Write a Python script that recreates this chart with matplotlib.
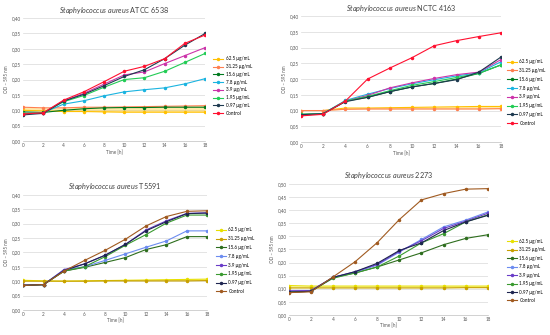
import matplotlib
matplotlib.use("Agg")
import matplotlib.pyplot as plt
from matplotlib.ticker import FuncFormatter

plt.rcParams['font.family'] = ['Lato', 'DejaVu Sans']
plt.rcParams['mathtext.fontset'] = 'custom'
plt.rcParams['mathtext.it'] = 'Lato:italic'
plt.rcParams['mathtext.rm'] = 'Lato'

time_h = [0, 2, 4, 6, 8, 10, 12, 14, 16, 18]
labels = ["62.5 µg/mL", "31.25 µg/mL", "15.6 µg/mL", "7.8 µg/mL",
          "3.9 µg/mL", "1.95 µg/mL", "0.97 µg/mL", "Control"]

# Panel 1: ATCC 6538
atcc_62 = [0.100, 0.098, 0.096, 0.096, 0.095, 0.094, 0.094, 0.094, 0.094, 0.094]
atcc_31 = [0.110, 0.108, 0.108, 0.110, 0.110, 0.111, 0.112, 0.113, 0.114, 0.115]
atcc_15 = [0.095, 0.093, 0.100, 0.105, 0.108, 0.109, 0.109, 0.110, 0.110, 0.110]
atcc_7 = [0.088, 0.092, 0.120, 0.131, 0.147, 0.160, 0.167, 0.173, 0.186, 0.203]
atcc_3 = [0.090, 0.092, 0.130, 0.155, 0.185, 0.215, 0.225, 0.252, 0.278, 0.304]
atcc_1 = [0.090, 0.092, 0.128, 0.148, 0.175, 0.200, 0.206, 0.227, 0.256, 0.285]
atcc_0 = [0.085, 0.090, 0.130, 0.152, 0.180, 0.210, 0.232, 0.268, 0.312, 0.350]
atcc_c = [0.088, 0.092, 0.133, 0.160, 0.193, 0.227, 0.243, 0.268, 0.318, 0.345]

# Panel 2: NCTC 4163
nctc_62 = [0.100, 0.100, 0.108, 0.108, 0.109, 0.110, 0.111, 0.112, 0.113, 0.113]
nctc_31 = [0.100, 0.100, 0.104, 0.105, 0.105, 0.105, 0.105, 0.105, 0.105, 0.106]
nctc_15 = [0.088, 0.090, 0.130, 0.142, 0.160, 0.175, 0.186, 0.200, 0.218, 0.245]
nctc_7 = [0.085, 0.090, 0.132, 0.152, 0.170, 0.185, 0.198, 0.210, 0.220, 0.255]
nctc_3 = [0.085, 0.090, 0.130, 0.148, 0.172, 0.188, 0.202, 0.214, 0.222, 0.262]
nctc_1 = [0.088, 0.090, 0.130, 0.145, 0.163, 0.180, 0.192, 0.205, 0.218, 0.245]
nctc_0 = [0.087, 0.090, 0.128, 0.142, 0.160, 0.175, 0.186, 0.198, 0.222, 0.270]
nctc_c = [0.083, 0.088, 0.130, 0.200, 0.235, 0.268, 0.306, 0.322, 0.335, 0.347]

# Panel 3: T5591
t_62 = [0.103, 0.101, 0.100, 0.101, 0.102, 0.103, 0.104, 0.105, 0.106, 0.107]
t_31 = [0.100, 0.100, 0.100, 0.100, 0.101, 0.101, 0.101, 0.101, 0.101, 0.102]
t_15 = [0.085, 0.088, 0.135, 0.148, 0.165, 0.182, 0.210, 0.227, 0.255, 0.255]
t_7 = [0.085, 0.088, 0.140, 0.150, 0.172, 0.195, 0.218, 0.240, 0.275, 0.275]
t_3 = [0.087, 0.088, 0.140, 0.160, 0.190, 0.228, 0.278, 0.310, 0.336, 0.338]
t_1 = [0.085, 0.088, 0.135, 0.150, 0.185, 0.225, 0.262, 0.302, 0.330, 0.330]
t_0 = [0.085, 0.088, 0.137, 0.160, 0.190, 0.228, 0.275, 0.307, 0.335, 0.337]
t_c = [0.085, 0.088, 0.135, 0.172, 0.207, 0.246, 0.292, 0.325, 0.343, 0.345]

# Panel 4: 2273
s_62 = [0.112, 0.110, 0.110, 0.110, 0.110, 0.110, 0.110, 0.110, 0.110, 0.110]
s_31 = [0.103, 0.103, 0.103, 0.103, 0.103, 0.103, 0.103, 0.103, 0.104, 0.104]
s_15 = [0.088, 0.090, 0.143, 0.160, 0.183, 0.210, 0.237, 0.268, 0.292, 0.306]
s_7 = [0.090, 0.092, 0.143, 0.163, 0.190, 0.240, 0.288, 0.336, 0.362, 0.393]
s_3 = [0.092, 0.093, 0.143, 0.165, 0.193, 0.243, 0.283, 0.330, 0.358, 0.388]
s_1 = [0.087, 0.090, 0.140, 0.160, 0.183, 0.225, 0.275, 0.310, 0.355, 0.382]
s_0 = [0.087, 0.090, 0.143, 0.165, 0.197, 0.246, 0.275, 0.322, 0.355, 0.380]
s_c = [0.085, 0.088, 0.145, 0.203, 0.276, 0.364, 0.439, 0.463, 0.480, 0.482]

colors_top = ["#FFC000", "#FF7F50", "#007A1F", "#1BB4E0", "#CC33AA", "#22CC55", "#1E3A50", "#FF1030"]
colors_bot = ["#E8E000", "#C8A000", "#2E6E1E", "#6C8CF0", "#6A3CC8", "#3A9A30", "#1E2550", "#A05A20"]

panels = [
    ("ATCC 6538", [atcc_62, atcc_31, atcc_15, atcc_7, atcc_3, atcc_1, atcc_0, atcc_c],
     colors_top, [0.042, 0.579, 0.331, 0.367], 0.40, (0.388, 0.743), 0.6),
    ("NCTC 4163", [nctc_62, nctc_31, nctc_15, nctc_7, nctc_3, nctc_1, nctc_0, nctc_c],
     colors_top, [0.547, 0.576, 0.364, 0.376], 0.40, (0.921, 0.724), 0.83),
    ("T5591", [t_62, t_31, t_15, t_7, t_3, t_1, t_0, t_c],
     colors_bot, [0.042, 0.075, 0.335, 0.343], 0.40, (0.392, 0.222), 0.83),
    ("2273", [s_62, s_31, s_15, s_7, s_3, s_1, s_0, s_c],
     colors_bot, [0.525, 0.060, 0.362, 0.391], 0.50, (0.921, 0.191), 0.75),
]

fig = plt.figure(figsize=(5.5, 3.35), dpi=100)
fs = 3.3
comma = FuncFormatter(lambda v, p: f"{v:.2f}".replace(".", ","))
for name, series, cols, rect, ymax, legpos, lsp in panels:
    ax = fig.add_axes(rect)
    ax.fill_between(time_h, series[0], series[1], color=cols[0], alpha=0.35, lw=0)
    handles = []
    for s, c, lab in zip(series, cols, labels):
        h, = ax.plot(time_h, s, color=c, lw=0.8, marker='o', ms=1.5, label=lab)
        handles.append(h)
    ax.set_xlim(0, 18)
    ax.set_ylim(0, ymax)
    ax.set_xticks(time_h)
    ax.set_yticks([i * 0.05 for i in range(int(round(ymax / 0.05)) + 1)])
    ax.yaxis.set_major_formatter(comma)
    ax.grid(axis='y', color='#D9D9D9', lw=0.5)
    ax.set_axisbelow(True)
    for sp in ['top', 'right', 'left']:
        ax.spines[sp].set_visible(False)
    ax.spines['bottom'].set_color('#BFBFBF')
    ax.spines['bottom'].set_linewidth(0.5)
    ax.tick_params(labelsize=fs, length=0, pad=1.5, colors='#595959')
    ax.set_xlabel("Time [h]", fontsize=fs, color='#595959', labelpad=1)
    ax.set_ylabel("OD – 595 nm", fontsize=fs, color='#595959', labelpad=2)
    ax.set_title(r"$\it{Staphylococcus\ aureus}$ " + name, fontsize=5.2, color='#404040', pad=4)
    fig.legend(handles=handles, loc='center left', bbox_to_anchor=legpos, fontsize=fs,
               frameon=False, handlelength=2.2, labelspacing=lsp, borderpad=0,
               borderaxespad=0, handletextpad=0.6)

fig.savefig("out.png", dpi=100)
